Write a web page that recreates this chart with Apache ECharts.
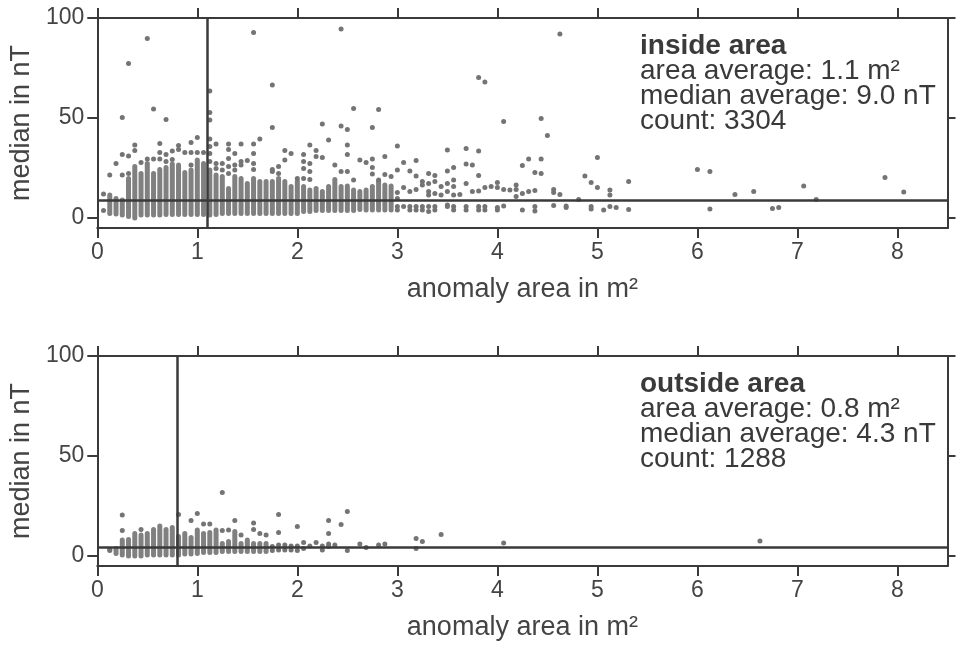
<!DOCTYPE html>
<html>
<head>
<meta charset="utf-8">
<script src="https://cdn.jsdelivr.net/npm/echarts@6/dist/echarts.min.js"></script>
<style>
html,body{margin:0;padding:0;background:#fff;}
#chart{width:957px;height:645px;}
</style>
</head>
<body>
<div id="chart"></div>
<script>
// ---- tick labels ----
const xTickValues = [0, 1, 2, 3, 4, 5, 6, 7, 8];
const yTickValues = [0, 50, 100];
const xAxisName = 'anomaly area in m²';
const yAxisName = 'median in nT';

// ---- panel statistics ----
const panelTitles = ['inside area', 'outside area'];
const areaAverages = [1.1, 0.8];
const medianAverages = [9.0, 4.3];
const counts = [3304, 1288];

// ---- top panel (inside area): dense columns [area, lowMedian, highMedian] ----
const topColumns = [
  [0.125,2.3,11.5],[0.1875,2,9.8],[0.25,1.5,9],[0.3125,0.7,19.8],[0.375,0,25.7],
  [0.4375,1.5,22.3],[0.5,1.5,27.3],[0.5625,1.5,22.3],[0.625,1.5,24.3],[0.6875,1.8,25.3],
  [0.75,1.8,27],[0.8125,1.8,26.5],[0.875,1.8,22.7],[0.9375,1.8,24],[1,1.8,29],
  [1.0625,1.8,27.3],[1.125,1.5,24],[1.1875,1.8,21.5],[1.25,2.3,20.7],[1.3125,2.3,14.8],
  [1.375,2.3,20.7],[1.4375,2.3,19.8],[1.5,2.3,17.3],[1.5625,2.3,19.8],[1.625,2.3,18.2],
  [1.6875,2.3,18.2],[1.75,2.3,18.2],[1.8125,2.3,19.8],[1.875,2.3,18.2],[1.9375,2.3,15.7],
  [2,2.3,18.2],[2.0625,3.2,15.7],[2.125,3.2,14],[2.1875,3.7,14.8],[2.25,3.7,13.2],
  [2.3125,3.7,15.7],[2.375,3.7,19.3],[2.4375,3.7,15.7],[2.5,3.7,16],[2.5625,3.7,14],
  [2.625,4.3,13.2],[2.6875,4,14],[2.75,4,15.7],[2.8125,4,18.2],[2.875,4,16.5],[2.9375,4,16]
];

// ---- top panel: individual points [area, median] ----
const topPoints = [
  [0.0625,12],[0.0625,3.7],[0.125,21.5],[0.1875,27.3],
  [0.25,31.8],[0.25,21.5],[0.25,50.3],[0.3125,31],[0.3125,22.3],[0.3125,77.3],
  [0.375,36.5],[0.375,33.7],[0.4375,27.7],[0.5,29.5],[0.5,89.8],[0.5625,29.5],[0.5625,54.5],
  [0.625,37.3],[0.625,32.8],[0.625,29.5],[0.6875,31.8],[0.6875,28.2],[0.6875,49.2],
  [0.75,33.5],[0.75,29.3],[0.8125,36.2],[0.8125,34.3],[0.875,32.8],
  [0.9375,37.8],[0.9375,32.8],[0.9375,26.5],[1,40.3],[1,32.8],[1.0625,32.8],
  [1.125,39.5],[1.125,35.7],[1.125,32.3],[1.125,28.2],[1.125,63.5],[1.125,52.7],[1.125,49],
  [1.1875,37],[1.1875,27.3],[1.1875,24.8],[1.25,27.3],[1.25,24],
  [1.3125,37],[1.3125,34.3],[1.3125,29.8],[1.3125,25.7],[1.3125,22.3],
  [1.375,32.3],[1.375,26.5],[1.375,24],[1.4375,37],[1.4375,28.2],[1.4375,26.5],[1.5,28.7],
  [1.5625,37],[1.5625,32.3],[1.5625,27.3],[1.5625,24.3],[1.5625,92.7],[1.625,39.5],
  [1.75,45.2],[1.75,24.3],[1.75,23.2],[1.75,66.5],[1.8125,25.7],[1.8125,22.3],
  [1.875,33.7],[1.875,29],[1.9375,32.3],[2,19.8],
  [2.0625,31.8],[2.0625,28.2],[2.0625,24.8],[2.0625,19.8],
  [2.125,36.5],[2.125,27.3],[2.125,23.2],[2.125,19.3],[2.1875,33.7],[2.1875,30.7],
  [2.25,47],[2.25,30.3],[2.3125,39],[2.375,26.5],[2.4375,46],[2.4375,23.2],[2.4375,94.5],
  [2.5,44.3],[2.5,36.5],[2.5,31.8],[2.5,23.2],[2.5625,19],[2.5625,54.8],[2.625,29],
  [2.6875,27.7],[2.75,45.2],[2.75,29.5],[2.75,25.3],[2.75,22],[2.8125,19],[2.8125,54.3],
  [2.875,30.7],[2.875,21.8],[2.9375,20.7],
  [3,36],[3,24],[3,12.7],[3,9.8],[3,5.7],[3,4],
  [3.0625,27.7],[3.0625,15.2],[3.0625,5.7],
  [3.125,23.5],[3.125,13.2],[3.125,5.7],[3.125,4],
  [3.1875,28.8],[3.1875,21],[3.1875,14.3],[3.1875,5.7],[3.1875,4],
  [3.25,18.2],[3.25,16.5],[3.25,5.7],[3.25,4],
  [3.3125,22.3],[3.3125,17.3],[3.3125,13.2],[3.3125,11.5],[3.3125,5.7],[3.3125,3.2],
  [3.375,21.2],[3.375,18.2],[3.375,12.3],[3.375,5.7],[3.375,4],
  [3.4375,15.7],[3.4375,11.5],
  [3.5,34],[3.5,23.5],[3.5,17.3],[3.5,13.2],[3.5,6.5],[3.5,5.7],
  [3.5625,25.3],[3.5625,19],[3.5625,15.7],[3.5625,11.5],[3.5625,5.7],[3.5625,4],
  [3.625,11.8],[3.6875,34.7],[3.6875,27],[3.6875,17.3],[3.6875,5.7],[3.6875,4],
  [3.75,26.5],[3.75,13.2],
  [3.8125,70.3],[3.8125,33.5],[3.8125,21.2],[3.8125,13.5],[3.8125,5.7],[3.8125,4],
  [3.875,68],[3.875,15.2],[3.875,5.7],[3.875,4],[3.9375,15.7],
  [4,17.7],[4,15.2],[4,5.3],[4,4],[4.0625,48.2],[4.0625,14.3],[4.0625,6],[4.125,14],
  [4.1875,16.5],[4.1875,14.3],[4.1875,10.7],[4.25,26.3],[4.25,12.3],[4.25,4],
  [4.3125,29.5],[4.3125,13.2],[4.375,22.8],[4.375,13.7],[4.375,5.7],[4.375,3.5],
  [4.4375,49.7],[4.4375,29.5],[4.4375,22.2],[4.5,41.2],
  [4.5625,14.3],[4.5625,12.7],[4.5625,6.2],[4.625,92],[4.625,11.8],[4.6875,6],[4.6875,5.2],
  [4.8125,9.3],[4.875,21],[4.9375,17.8],[4.9375,5.7],[4.9375,4.5],[5,30.3],[5,15.2],
  [5.0625,4],[5.125,14],[5.125,11.5],[5.125,5.7],[5.1875,5.2],[5.3125,18.2],[5.3125,4.3],
  [6,24.3],[6.125,23.3],[6.125,4.5],[6.375,11.8],[6.5625,13.2],[6.75,4.8],[6.8125,5.3],
  [7.0625,16],[7.1875,9.3],[7.875,20.2],[8.0625,13]
];

// ---- bottom panel (outside area): dense columns [area, lowMedian, highMedian] ----
const bottomColumns = [
  [0.1875,1.3,3.8],[0.25,0.5,8],[0.3125,0,8.3],[0.375,0,11.3],[0.4375,0,10.5],
  [0.5,0.5,11.3],[0.5625,0.5,13.3],[0.625,0.5,15],[0.6875,0.5,13.3],[0.75,0.5,14.3],
  [0.8125,0.5,9.7],[0.875,1,11.3],[0.9375,1,9.3],[1,1.3,13],[1.0625,1.7,11.3],
  [1.125,1.7,11.7],[1.1875,1.7,13],[1.25,2.2,6.3],[1.3125,2.2,7.2],[1.375,2.2,12.2],
  [1.4375,2.2,6.3],[1.5,2.2,8],[1.5625,2.2,6.3],[1.625,2.2,6.3],[1.6875,2.2,6.3]
];

// ---- bottom panel: individual points [area, median] ----
const bottomPoints = [
  [0.125,3.3],[0.125,2.7],[0.25,20.5],[0.25,12.7],[0.4375,13.3],[0.8125,20.8],
  [0.9375,17.7],[1,21.3],[1.0625,16],[1.125,16],[1.25,31.7],[1.25,12.7],[1.3125,13],
  [1.375,17.7],[1.4375,10.5],[1.5625,16.5],[1.5625,13.3],[1.625,11.3],[1.6875,10.5],
  [1.75,4.7],[1.75,2.7],[1.8125,20.8],[1.8125,11.7],[1.8125,5.5],[1.8125,3],
  [1.875,5.5],[1.875,3],[1.9375,5],[1.9375,3],[2,14.7],[2,5],[2,2.7],
  [2.0625,6.7],[2.0625,3.8],[2.125,5],[2.1875,6.7],[2.25,5],[2.25,3],
  [2.3125,17.7],[2.3125,11.3],[2.3125,6],[2.3125,4.7],[2.375,5.5],[2.4375,15.8],
  [2.5,22.2],[2.5,2.7],[2.625,6],[2.6875,4.3],[2.8125,5.5],[2.875,6],
  [3.1875,8.8],[3.1875,3.8],[3.25,7.2],[3.4375,10.8],[4.0625,6.5],[6.625,7.5]
];

const columnsByPanel = [topColumns, bottomColumns];
const pointsByPanel = [topPoints, bottomPoints];

// ---- styling ----
const FONT = '"Liberation Sans", Arial, Helvetica, sans-serif';
const INK = '#3a3a3a';
const TXT = '#444444';
const DOT = '#747474';
const COL = '#808080';

const grids = [
  { left: 96, right: 9.5, top: 18, height: 210 },
  { left: 96, right: 9.5, top: 356, height: 210 }
];

const xAxes = [], yAxes = [], series = [], graphics = [];
grids.forEach((g, i) => {
  const lineStyle = { color: INK, width: 2 };
  xAxes.push({
    type: 'value', gridIndex: i, position: 'bottom', min: 0, max: 8.5,
    axisLine: { show: true, onZero: false, lineStyle },
    axisTick: { show: true, inside: false, length: 10, lineStyle, customValues: xTickValues },
    axisLabel: { show: true, customValues: xTickValues, margin: 13, fontSize: 23, color: TXT, fontFamily: FONT },
    splitLine: { show: false },
    name: xAxisName, nameLocation: 'middle', nameGap: 48,
    nameTextStyle: { fontSize: 27, color: TXT, fontFamily: FONT }
  });
  xAxes.push({
    type: 'value', gridIndex: i, position: 'top', min: 0, max: 8.5,
    axisLine: { show: true, onZero: false, lineStyle },
    axisTick: { show: true, inside: false, length: 10, lineStyle, customValues: xTickValues },
    axisLabel: { show: false },
    splitLine: { show: false }
  });
  yAxes.push({
    type: 'value', gridIndex: i, position: 'left', min: -5, max: 100,
    axisLine: { show: true, onZero: false, lineStyle },
    axisTick: { show: true, inside: false, length: 10, lineStyle, customValues: yTickValues },
    axisLabel: { show: true, customValues: yTickValues, margin: 13, fontSize: 23, color: TXT, fontFamily: FONT },
    splitLine: { show: false },
    name: yAxisName, nameLocation: 'middle', nameGap: 57, nameRotate: 90,
    nameTextStyle: { fontSize: 27, color: TXT, fontFamily: FONT }
  });
  yAxes.push({
    type: 'value', gridIndex: i, position: 'right', min: -5, max: 100,
    axisLine: { show: true, onZero: false, lineStyle },
    axisTick: { show: true, inside: false, length: 8, lineStyle, customValues: yTickValues },
    axisLabel: { show: false },
    splitLine: { show: false }
  });

  const xi = i * 2, yi = i * 2;
  series.push({
    type: 'custom', xAxisIndex: xi, yAxisIndex: yi, z: 2, silent: true,
    data: columnsByPanel[i],
    renderItem: function (params, api) {
      const lo = api.coord([api.value(0), api.value(1)]);
      const hi = api.coord([api.value(0), api.value(2)]);
      const w = 5;
      return {
        type: 'rect',
        shape: { x: lo[0] - w / 2, y: hi[1] - w / 2, width: w, height: lo[1] - hi[1] + w, r: w / 2 },
        style: { fill: COL }
      };
    }
  });
  series.push({
    type: 'scatter', xAxisIndex: xi, yAxisIndex: yi, z: 3, silent: true,
    symbol: 'circle', symbolSize: 5,
    itemStyle: { color: DOT, opacity: 1 },
    data: pointsByPanel[i],
    markLine: {
      silent: true, symbol: ['none', 'none'], label: { show: false },
      lineStyle: { color: INK, width: 2.5, type: 'solid' },
      data: [{ xAxis: areaAverages[i] }, { yAxis: medianAverages[i] }]
    }
  });

  const lines = [
    { t: panelTitles[i], bold: true },
    { t: 'area average: ' + areaAverages[i].toFixed(1) + ' m²' },
    { t: 'median average: ' + medianAverages[i].toFixed(1) + ' nT' },
    { t: 'count: ' + counts[i] }
  ];
  lines.forEach((l, j) => {
    graphics.push({
      type: 'text', left: 640, top: g.top + 14 + j * 25, z: 10,
      style: {
        text: l.t, fill: INK,
        font: (l.bold ? 'bold ' : '') + '28px ' + FONT
      }
    });
  });
});

const chart = echarts.init(document.getElementById('chart'), null, { renderer: 'canvas' });
chart.setOption({
  backgroundColor: '#ffffff',
  animation: false,
  grid: grids,
  xAxis: xAxes,
  yAxis: yAxes,
  series: series,
  graphic: graphics
});
</script>
</body>
</html>
